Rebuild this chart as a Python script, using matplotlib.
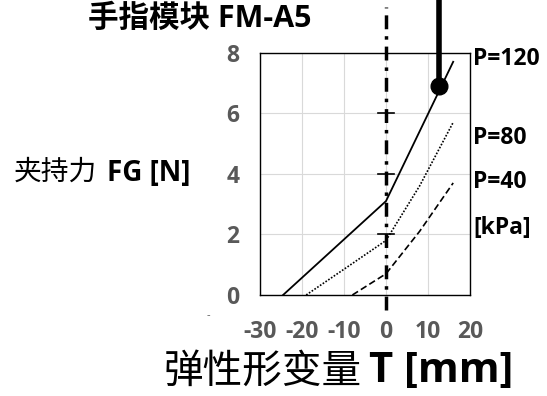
import matplotlib
matplotlib.use("Agg")
import matplotlib.pyplot as plt

plt.rcParams['font.family'] = ['Open Sans', 'Noto Sans CJK SC', 'DejaVu Sans']
plt.rcParams['axes.unicode_minus'] = False

# curves: deformation T [mm] -> grip force FG [N]
t_120 = [-24.5, 0, 16]
f_120 = [0, 3.1, 7.7]
t_80 = [-19, -10, 0, 8, 16]
f_80 = [0, 0.85, 1.8, 3.6, 5.7]
t_40 = [-8, 0, 8, 16]
f_40 = [0, 0.7, 2.1, 3.7]
pressure_labels = ['P=120', 'P=80', 'P=40', '[kPa]']
label_y = [7.8, 5.2, 3.72, 2.2]
x_ticks = [-30, -20, -10, 0, 10, 20]
y_ticks = [0, 2, 4, 6, 8]
center_marks = [2, 4, 6]
marker_pt = (12.6, 6.9)

fig = plt.figure(figsize=(5.47, 3.96), dpi=100)
ax = fig.add_axes([0.4753, 0.2551, 0.3839, 0.6118])

ax.plot(t_120, f_120, color='black', lw=1.3)
ax.plot(t_80, f_80, color='black', lw=1.2, ls=(0, (1, 1)))
ax.plot(t_40, f_40, color='black', lw=1.2, ls=(0, (4, 2)))

# centre dash-dot line with small cross marks
ax.plot([0, 0], [-0.5, 9.5], color='black', lw=2.5, ls=(0, (4, 2, 1, 2)),
        clip_on=False, zorder=5)
for y in center_marks:
    ax.plot([-2, 2], [y, y], color='black', lw=1.2, zorder=5)

# thick pointer with ball
ax.plot([marker_pt[0], marker_pt[0]], [marker_pt[1], 9.8], color='black',
        lw=4, clip_on=False, zorder=6, solid_capstyle='butt')
ax.plot([marker_pt[0]], [marker_pt[1]], 'o', color='black', ms=12,
        clip_on=False, zorder=7)

ax.set_xlim(-30, 20)
ax.set_ylim(0, 8)
ax.set_xticks(x_ticks)
ax.set_yticks(y_ticks)
ax.grid(True, color='#d9d9d9', lw=0.8)
ax.set_axisbelow(True)
ax.tick_params(length=0, labelsize=16.5, labelcolor='#595959')
ax.tick_params(axis='y', pad=15)
ax.tick_params(axis='x', pad=18)
for lab in ax.get_xticklabels() + ax.get_yticklabels():
    lab.set_fontweight('bold')
for s in ax.spines.values():
    s.set_color('black')
    s.set_linewidth(1)

for txt, y in zip(pressure_labels, label_y):
    ax.text(20.7, y, txt, fontsize=16.5, fontweight='bold', va='center',
            ha='left', clip_on=False)

fig.text(88 / 547, 1 - 19 / 396, '手指模块 FM-A5', fontsize=22,
         fontweight='bold', va='center', ha='left')
fig.text(14 / 547, 1 - 173 / 396, '夹持力', fontsize=20, va='center', ha='left')
fig.text(107 / 547, 1 - 173 / 396, 'FG [N]', fontsize=20, fontweight='bold',
         va='center', ha='left')
fig.text(207 / 547, 1 - 316 / 396, '-', fontsize=8, color='#595959',
         va='center', ha='left')
fig.text(164 / 547, 1 - 372 / 396, '弹性形变量', fontsize=28.5, va='center',
         ha='left')
fig.text(369 / 547, 1 - 372 / 396, 'T [mm]', fontsize=30, fontweight='bold',
         va='center', ha='left')

fig.savefig('out.png', dpi=100)
